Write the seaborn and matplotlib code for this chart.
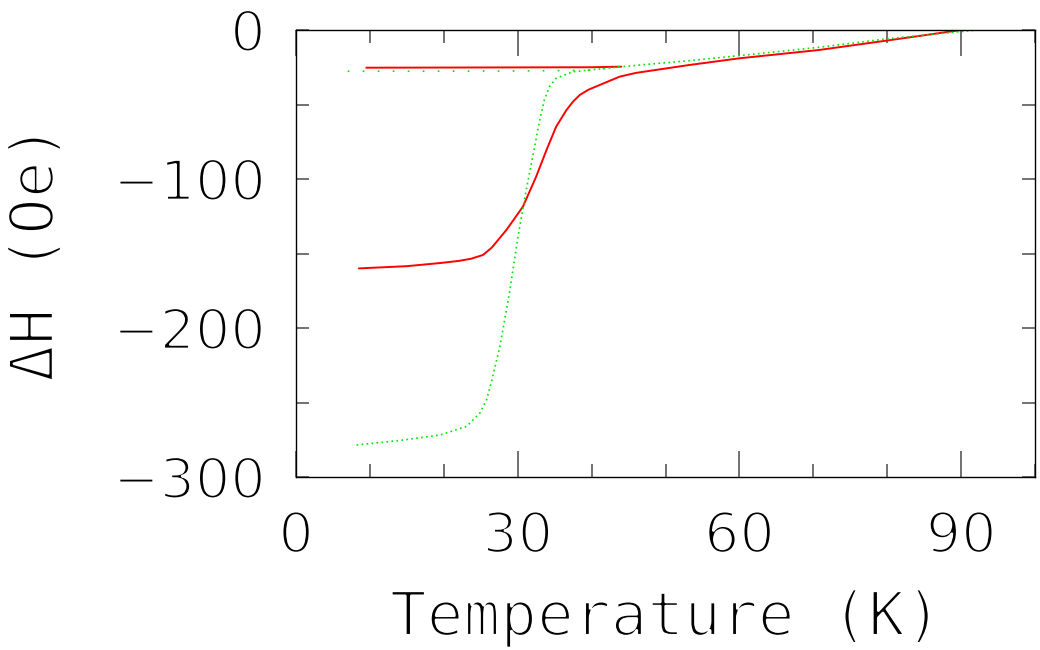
import numpy as np
import pandas as pd
import matplotlib
matplotlib.use("Agg")
import matplotlib.pyplot as plt
import matplotlib.patheffects as pe
import seaborn as sns
from matplotlib.ticker import MultipleLocator

# --- Data (T in K, dH in Oe) ---
red_zfc_T = [8.5, 12, 15, 19.5, 22, 23.7, 25.3, 26.5, 28.5, 30.7, 32.5, 33.9, 35.2,
             36.6, 37.5, 38.4, 39.6, 41.1, 43.8, 46, 48.7, 53.2, 60, 70.8, 79.8, 90]
red_zfc_H = [-160, -159.2, -158.5, -156.4, -155, -153.5, -151, -146, -134, -118.6,
             -98.4, -80.5, -64.9, -53.7, -48, -43.6, -40, -36.9, -31.3, -28.8,
             -26.8, -23.5, -19, -13.4, -7.2, 0]

red_fc_T = [9.5, 20, 30, 40, 44]
red_fc_H = [-25.3, -25.2, -25.1, -25.0, -24.6]

green_zfc_T = [8.2, 14, 19.5, 23.1, 24.9, 25.8, 26.5, 27.6, 28.9, 30.0, 30.9, 31.6,
               32.3, 33.0, 33.6, 34.3, 35.2, 37.5, 42, 46.5, 53.2, 60, 70.8, 79.8, 92.2]
green_zfc_H = [-278.5, -275.5, -271.8, -266, -257, -248, -235, -212, -176, -140,
               -114, -96, -78, -60, -47, -38, -32.4, -28, -25.7, -23.5, -20.6,
               -17.2, -11.6, -6, 0]

green_fc_T = [7, 20, 30, 40, 43.8]
green_fc_H = [-27.7, -27.6, -27.5, -27.0, -24.6]

x_ticks = [0, 30, 60, 90]
y_ticks = [0, -100, -200, -300]

# --- Style ---
sns.set_style("white")
plt.rcParams['font.family'] = ['DejaVu Sans Mono', 'DejaVu Sans']
plt.rcParams['text.color'] = 'black'

# thin the glyphs down to a pen-plotter look
thin = [pe.Stroke(linewidth=2.0, foreground='white')]

fig = plt.figure(figsize=(10.4, 6.5), dpi=100)
ax = fig.add_axes([296 / 1040, 1 - 477 / 650, (1035 - 296) / 1040, (477 - 30) / 650])

red = '#ff0000'
green = '#00e600'

sns.lineplot(x=red_zfc_T, y=red_zfc_H, ax=ax, color=red, lw=1.4, sort=False, estimator=None)
sns.lineplot(x=red_fc_T, y=red_fc_H, ax=ax, color=red, lw=1.4, sort=False, estimator=None)
sns.lineplot(x=green_zfc_T, y=green_zfc_H, ax=ax, color=green, lw=1.2, sort=False,
             estimator=None, dashes=False, linestyle=(0, (1, 2)))
sns.lineplot(x=green_fc_T, y=green_fc_H, ax=ax, color=green, lw=1.2, sort=False,
             estimator=None, dashes=False, linestyle=(0, (1, 8)))

ax.set_xlim(0, 100)
ax.set_ylim(-300, 0)

ax.set_xticks(x_ticks)
ax.set_yticks(y_ticks)
ax.xaxis.set_minor_locator(MultipleLocator(10))
ax.yaxis.set_minor_locator(MultipleLocator(50))
xl = ax.set_xticklabels([str(v) for v in x_ticks], family='DejaVu Sans')
yl = ax.set_yticklabels([str(v).replace('-', '\u2212') for v in y_ticks], family='DejaVu Sans')

ax.tick_params(axis='both', which='both', direction='in', bottom=True, top=True,
               left=True, right=True, color='#666666', width=1.3, labelcolor='black')
ax.tick_params(axis='x', which='major', length=19, pad=24, labelsize=40)
ax.tick_params(axis='x', which='minor', length=9.5)
ax.tick_params(axis='y', which='both', length=9.5)
ax.tick_params(axis='y', which='major', pad=22, labelsize=40)

for s in ax.spines.values():
    s.set_color('black')
    s.set_linewidth(1.0)

xlab = ax.set_xlabel('Temperature (K)', fontsize=44, labelpad=18, color='black')
ylab = ax.set_ylabel('\u0394H (Oe)', fontsize=44, color='black')
ax.yaxis.set_label_coords(-0.311, 0.5)

for t in list(xl) + list(yl) + [xlab, ylab]:
    t.set_path_effects(thin)

fig.savefig('out.png', dpi=100)
